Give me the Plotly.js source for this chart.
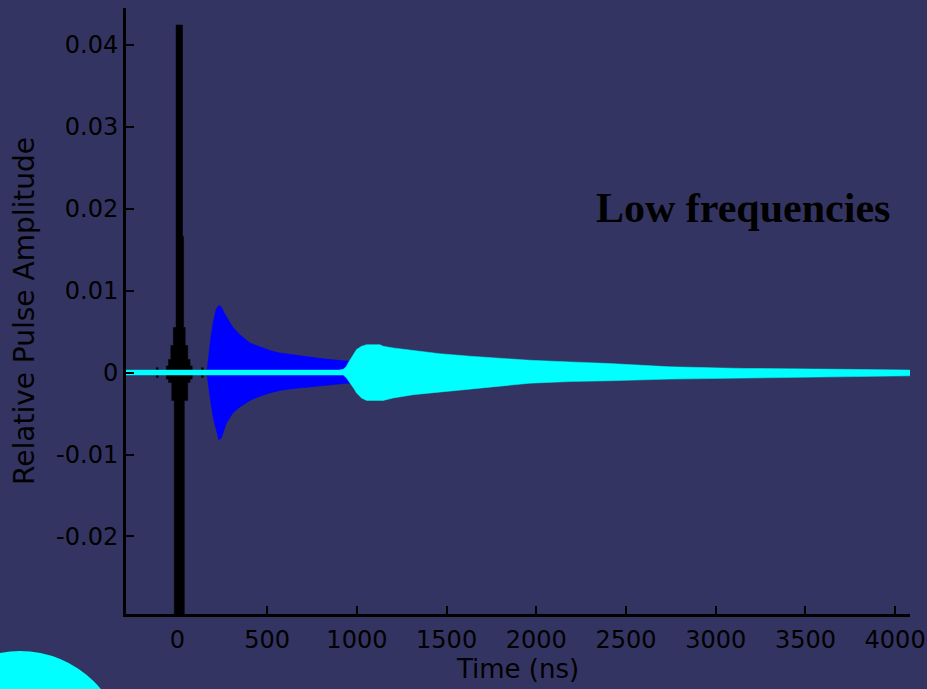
<!DOCTYPE html>
<html>
<head>
<meta charset="utf-8">
<script src="https://cdn.plot.ly/plotly-3.0.1.min.js"></script>
<style>
  html, body { margin: 0; padding: 0; background: rgb(52,52,98); }
  #chart { width: 927px; height: 689px; }
</style>
</head>
<body>
<div id="chart"></div>
<script>
// ---- Data (envelopes: time in ns, amplitude) ----
// Black: short, strong pulse near t = 0 (stepped envelope; value holds until next time)
const blackTime  = [-290, -118, -108, -62, -50, -37, -32, -23, -18, -8, 28, 34, 38, 43, 57, 70, 82, 134, 144, 4080];
const blackUpper = [0.0001, 0.0006, 0.0001, 0.0008, 0.0016, 0.0033, 0.0033, 0.0055, 0.0055, 0.0424, 0.0166, 0.0055, 0.0055, 0.0033, 0.0016, 0.0008, 0.0001, 0.0006, 0.0001, 0.0001];
const blackLower = [-0.0001, -0.0006, -0.0001, -0.0008, -0.0012, -0.0012, -0.0034, -0.0034, -0.035, -0.035, -0.035, -0.035, -0.0034, -0.0034, -0.0012, -0.0008, -0.0001, -0.0006, -0.0001, -0.0001];

// Blue: pulse arriving ~170 ns, peak ~240 ns, decaying
const blueTime  = [150, 165, 175, 185, 200, 215, 230, 245, 260, 274, 292, 310, 348, 404, 460, 515, 570, 627, 690, 738, 800, 850, 943, 1000, 1100];
const blueUpper = [0.0002, 0.0003, 0.0022, 0.0042, 0.0063, 0.0077, 0.0082, 0.0080, 0.0073, 0.0067, 0.0061, 0.0055, 0.0046, 0.0036, 0.0031, 0.0027, 0.0024, 0.0022, 0.0020, 0.0019, 0.0017, 0.0016, 0.0014, 0.0014, 0.0012];
const blueLower = [-0.0002, -0.0003, -0.0020, -0.0036, -0.0056, -0.0070, -0.0082, -0.0080, -0.0070, -0.0061, -0.0055, -0.0049, -0.0042, -0.0034, -0.0029, -0.0025, -0.0022, -0.0020, -0.0018, -0.0017, -0.0016, -0.0015, -0.0013, -0.0014, -0.0012];

// Cyan: baseline, then pulse arriving ~950 ns, slow decay
const cyanTime  = [-290, 900, 924, 940, 952, 970, 985, 998, 1026, 1054, 1128, 1147, 1202, 1314, 1462, 1630, 1778, 1964, 2187, 2409, 2744, 3152, 3708, 4090];
const cyanUpper = [0.0003, 0.0003, 0.0004, 0.0007, 0.0012, 0.0018, 0.0024, 0.0028, 0.0032, 0.0034, 0.0034, 0.0032, 0.0030, 0.0027, 0.0023, 0.0020, 0.0018, 0.0015, 0.0013, 0.0011, 0.0007, 0.0005, 0.0004, 0.0003];
const cyanLower = [-0.0003, -0.0003, -0.0003, -0.0006, -0.0009, -0.0015, -0.0020, -0.0025, -0.0031, -0.0034, -0.0034, -0.0034, -0.0031, -0.0027, -0.0023, -0.0020, -0.0017, -0.0013, -0.0011, -0.0010, -0.0008, -0.0007, -0.0005, -0.0004];

const xTickVals = [0, 500, 1000, 1500, 2000, 2500, 3000, 3500, 4000];
const yTickVals = [-0.02, -0.01, 0, 0.01, 0.02, 0.03, 0.04];
const yTickText = ['-0.02', '-0.01', '0', '0.01', '0.02', '0.03', '0.04'];

const BG = 'rgb(52,52,98)';

// expand a step envelope (value held until next time) into corner points
function stepify(t, v) {
  const xs = [], ys = [];
  for (let i = 0; i < t.length; i++) {
    if (i > 0) { xs.push(t[i]); ys.push(v[i - 1]); }
    xs.push(t[i]); ys.push(v[i]);
  }
  return { xs, ys };
}

// closed band polygon between upper and lower envelopes
function band(t, up, lo, color, stepped) {
  let tu = t, vu = up, tl = t, vl = lo;
  if (stepped) {
    const a = stepify(t, up), b = stepify(t, lo);
    tu = a.xs; vu = a.ys; tl = b.xs; vl = b.ys;
  }
  return {
    x: tu.concat(tl.slice().reverse()),
    y: vu.concat(vl.slice().reverse()),
    mode: 'lines', fill: 'toself', fillcolor: color,
    line: { color: color, width: 0.5 }, hoverinfo: 'skip', showlegend: false
  };
}

const data = [
  band(blackTime, blackUpper, blackLower, '#000000', true),
  band(blueTime, blueUpper, blueLower, '#0000ff', false),
  band(cyanTime, cyanUpper, cyanLower, '#00ffff', false)
];

const font = 'DejaVu Sans, Arial, sans-serif';

const layout = {
  width: 927, height: 689,
  paper_bgcolor: BG, plot_bgcolor: BG,
  margin: { l: 126, r: 17, t: 8, b: 75, pad: 0 },
  showlegend: false,
  xaxis: {
    range: [-287, 4083], showgrid: false, zeroline: false,
    showline: true, linecolor: '#000', linewidth: 3,
    ticks: 'inside', ticklen: 8, tickwidth: 2, tickcolor: '#000',
    tickvals: xTickVals, ticklabelstandoff: 2,
    tickfont: { family: font, size: 24, color: '#000' },
    title: { text: 'Time (ns)', font: { family: font, size: 26, color: '#000' }, standoff: 2 }
  },
  yaxis: {
    range: [-0.02946, 0.04448], showgrid: false, zeroline: false,
    showline: true, linecolor: '#000', linewidth: 3,
    ticks: 'inside', ticklen: 8, tickwidth: 2, tickcolor: '#000',
    tickvals: yTickVals, ticktext: yTickText, ticklabelstandoff: 0,
    tickfont: { family: font, size: 24, color: '#000' },
    title: { text: 'Relative Pulse Amplitude', font: { family: font, size: 28, color: '#000' }, standoff: 14 }
  },
  annotations: [{
    xref: 'paper', yref: 'paper', x: 0.7876, y: 0.670,
    xanchor: 'center', yanchor: 'middle', showarrow: false,
    text: '<b>Low frequencies</b>',
    font: { family: 'Liberation Serif, Times New Roman, serif', size: 42, color: '#000' }
  }],
  shapes: [{
    type: 'circle', xref: 'paper', yref: 'paper',
    x0: -0.2691, x1: -0.0013, y0: -0.4076, y1: -0.0611,
    fillcolor: '#00ffff', line: { width: 0 }
  }]
};

Plotly.newPlot('chart', data, layout, { displayModeBar: false, staticPlot: true });
</script>
</body>
</html>
